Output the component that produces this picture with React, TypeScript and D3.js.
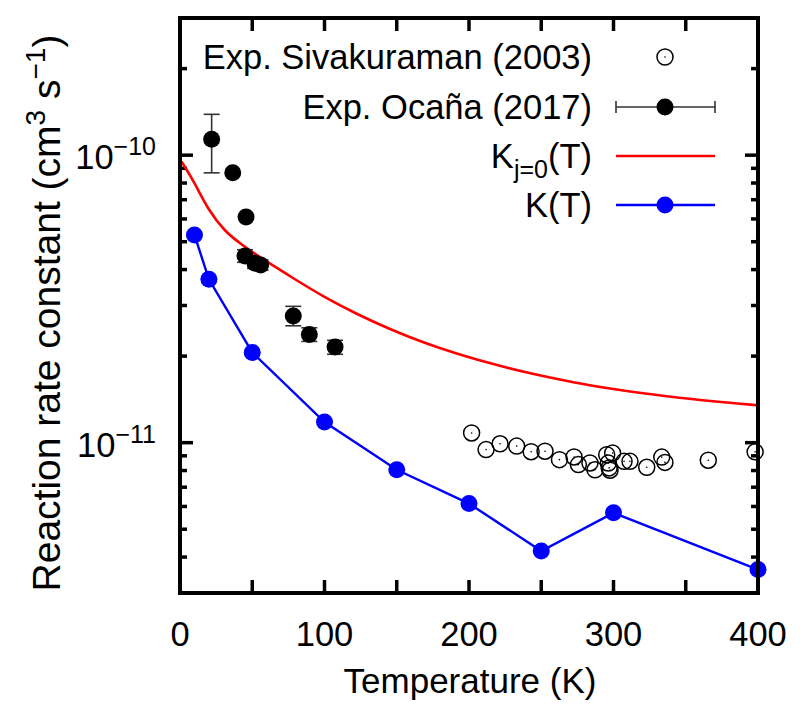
import React from 'react';
import * as d3 from 'd3';

// ---------- data ----------
const sivaT = [201.8, 211.8, 221.5, 233, 243, 252.6, 262.6, 272.7, 275.7, 283.7, 287.2, 295.3, 299.4, 296.4, 297, 297.6, 307.3, 311.4, 323, 333.4, 335.6, 365.6, 398];
const sivaK = [1.081e-11, 9.46e-12, 9.91e-12, 9.73e-12, 9.3e-12, 9.34e-12, 8.73e-12, 8.92e-12, 8.39e-12, 8.5e-12, 8.05e-12, 9.08e-12, 9.2e-12, 8.49e-12, 8.17e-12, 8.02e-12, 8.61e-12, 8.61e-12, 8.21e-12, 8.91e-12, 8.54e-12, 8.69e-12, 9.29e-12];

const ocanaT = [21.9, 36.5, 45.7, 45, 51.9, 55.8, 78.4, 89.5, 107.3];
const ocanaK = [1.135e-10, 8.68e-11, 6.1e-11, 4.46e-11, 4.21e-11, 4.15e-11, 2.76e-11, 2.38e-11, 2.15e-11];
const ocanaLo = [8.68e-11, 8.68e-11, 6.1e-11, 4.24e-11, 4.04e-11, 3.98e-11, 2.55e-11, 2.25e-11, 2.03e-11];
const ocanaHi = [1.387e-10, 8.68e-11, 6.1e-11, 4.69e-11, 4.38e-11, 4.32e-11, 2.98e-11, 2.51e-11, 2.27e-11];

const kj0T = [1, 2.3, 10.4, 19.6, 31.1, 42.7, 58.8, 77.3, 99.2, 122.3, 145.3, 168.4, 191.5, 214.5, 239.9, 272.2, 304.5, 336.8, 369.1, 400];
const kj0K = [9.5e-11, 9.3e-11, 7.97e-11, 6.44e-11, 5.42e-11, 4.88e-11, 4.3e-11, 3.76e-11, 3.22e-11, 2.8e-11, 2.48e-11, 2.23e-11, 2.04e-11, 1.89e-11, 1.75e-11, 1.62e-11, 1.52e-11, 1.45e-11, 1.39e-11, 1.35e-11];

const kT = [10, 20, 50, 100, 150, 200, 250, 300, 400];
const kK = [5.28e-11, 3.7e-11, 2.06e-11, 1.18e-11, 8.05e-12, 6.14e-12, 4.2e-12, 5.7e-12, 3.62e-12];

const xTickValues = [0, 50, 100, 150, 200, 250, 300, 350, 400];
const xTickLabels = [0, 100, 200, 300, 400];
const yMajorExps = [-11, -10];
const yMinorMantissas = [2, 3, 4, 5, 6, 7, 8, 9];
const yDecades = [-12, -11, -10];

const legendLabels = ['Exp. Sivakuraman (2003)', 'Exp. Ocaña (2017)', 'Kj=0(T)', 'K(T)'];

// ---------- layout ----------
const W = 800, H = 716;
const X0 = 180, X1 = 758, Y0 = 18, Y1 = 593;
const FONT = 'Liberation Sans, Arial, Helvetica, sans-serif';
const FS = 34.5;

export default function App() {
  const x = d3.scaleLinear().domain([0, 400]).range([X0, X1]);
  const y = d3.scaleLog().domain([3e-12, 3e-10]).range([Y1, Y0]);

  const redLine = d3.line<number>().x((_, i) => x(kj0T[i])).y((d) => y(d)).curve(d3.curveBasis)(kj0K) || '';
  const blueLine = d3.line<number>().x((_, i) => x(kT[i])).y((d) => y(d))(kK) || '';

  const minor: number[] = [];
  yDecades.forEach((e) => yMinorMantissas.forEach((m) => {
    const v = m * Math.pow(10, e);
    if (v > 3.01e-12 && v < 2.99e-10) minor.push(v);
  }));

  const majorLen = 13, minorLen = 7, tickW = 3.5;
  const legX1 = 616, legX2 = 715, legMid = 665;
  const legY = [57, 107, 156, 205];
  const legTextX = 592;
  const tx = { fontFamily: FONT, fill: '#000' };

  return (
    <svg width={W} height={H} style={{ position: 'absolute', left: 0, top: 0, background: '#fff' }}>
      <rect x={0} y={0} width={W} height={H} fill="#fff" />
      {/* ticks */}
      {xTickValues.map((t) => (
        <g key={'xt' + t}>
          <line x1={x(t)} x2={x(t)} y1={Y1} y2={Y1 - majorLen} stroke="#000" strokeWidth={tickW} />
          <line x1={x(t)} x2={x(t)} y1={Y0} y2={Y0 + majorLen} stroke="#000" strokeWidth={tickW} />
        </g>
      ))}
      {yMajorExps.map((e) => {
        const yy = y(Math.pow(10, e));
        return (
          <g key={'ym' + e}>
            <line x1={X0} x2={X0 + majorLen} y1={yy} y2={yy} stroke="#000" strokeWidth={tickW} />
            <line x1={X1} x2={X1 - majorLen} y1={yy} y2={yy} stroke="#000" strokeWidth={tickW} />
          </g>
        );
      })}
      {minor.map((v, i) => {
        const yy = y(v);
        return (
          <g key={'yn' + i}>
            <line x1={X0} x2={X0 + minorLen} y1={yy} y2={yy} stroke="#000" strokeWidth={tickW} />
            <line x1={X1} x2={X1 - minorLen} y1={yy} y2={yy} stroke="#000" strokeWidth={tickW} />
          </g>
        );
      })}

      {/* red curve */}
      <path d={redLine} fill="none" stroke="#ff0000" strokeWidth={2.6} />

      {/* blue K(T) */}
      <path d={blueLine} fill="none" stroke="#0000ff" strokeWidth={2.4} />
      {kT.map((t, i) => (
        <circle key={'b' + i} cx={x(t)} cy={y(kK[i])} r={8.5} fill="#0000ff" />
      ))}

      {/* Ocaña */}
      {ocanaT.map((t, i) => {
        if (ocanaHi[i] === ocanaLo[i]) return null;
        const cx = x(t);
        return (
          <g key={'e' + i} stroke="#333" strokeWidth={1.6}>
            <line x1={cx} x2={cx} y1={y(ocanaLo[i])} y2={y(ocanaHi[i])} />
            <line x1={cx - 8} x2={cx + 8} y1={y(ocanaLo[i])} y2={y(ocanaLo[i])} />
            <line x1={cx - 8} x2={cx + 8} y1={y(ocanaHi[i])} y2={y(ocanaHi[i])} />
          </g>
        );
      })}
      {ocanaT.map((t, i) => (
        <circle key={'o' + i} cx={x(t)} cy={y(ocanaK[i])} r={8.5} fill="#000" />
      ))}

      {/* Sivakuraman */}
      {sivaT.map((t, i) => (
        <g key={'s' + i}>
          <circle cx={x(t)} cy={y(sivaK[i])} r={8} fill="none" stroke="#000" strokeWidth={1.5} />
          <circle cx={x(t)} cy={y(sivaK[i])} r={0.8} fill="#000" />
        </g>
      ))}

      {/* frame */}
      <rect x={X0} y={Y0} width={X1 - X0} height={Y1 - Y0} fill="none" stroke="#000" strokeWidth={4} />

      {/* x tick labels */}
      {xTickLabels.map((t) => (
        <text key={'xl' + t} x={x(t)} y={646} textAnchor="middle" fontSize={FS} {...tx}>{t}</text>
      ))}
      {/* y tick labels */}
      {yMajorExps.map((e) => (
        <text key={'yl' + e} x={156} y={y(Math.pow(10, e)) + 14} textAnchor="end" fontSize={FS} {...tx}>
          10<tspan dy={-14} fontSize={25}>{'\u2212' + Math.abs(e)}</tspan>
        </text>
      ))}

      {/* axis titles */}
      <text x={(X0 + X1) / 2 + 1} y={693} textAnchor="middle" fontSize={35} {...tx}>Temperature (K)</text>
      <g transform="translate(60,313) rotate(-90)">
        <text textAnchor="middle" fontSize={39} {...tx}>
          Reaction rate constant (cm<tspan dy={-15} fontSize={28}>3</tspan>
          <tspan dy={15}> s</tspan><tspan dy={-15} fontSize={28}>{'\u22121'}</tspan><tspan dy={15}>)</tspan>
        </text>
      </g>

      {/* legend */}
      <text x={legTextX} y={legY[0] + 12} textAnchor="end" fontSize={FS} {...tx}>{legendLabels[0]}</text>
      <circle cx={legMid} cy={legY[0]} r={8} fill="none" stroke="#000" strokeWidth={1.5} />
      <circle cx={legMid} cy={legY[0]} r={0.8} fill="#000" />

      <text x={legTextX} y={legY[1] + 12} textAnchor="end" fontSize={FS} {...tx}>{legendLabels[1]}</text>
      <g stroke="#333" strokeWidth={1.6}>
        <line x1={legX1} x2={legX2} y1={legY[1]} y2={legY[1]} />
        <line x1={legX1} x2={legX1} y1={legY[1] - 6} y2={legY[1] + 6} />
        <line x1={legX2} x2={legX2} y1={legY[1] - 6} y2={legY[1] + 6} />
      </g>
      <circle cx={legMid} cy={legY[1]} r={8.5} fill="#000" />

      <text x={legTextX} y={legY[2] + 12} textAnchor="end" fontSize={FS} {...tx}>
        K<tspan dy={10} fontSize={25}>j=0</tspan><tspan dy={-10}>(T)</tspan>
      </text>
      <line x1={legX1} x2={legX2} y1={legY[2]} y2={legY[2]} stroke="#ff0000" strokeWidth={2.6} />

      <text x={legTextX} y={legY[3] + 12} textAnchor="end" fontSize={FS} {...tx}>{legendLabels[3]}</text>
      <line x1={legX1} x2={legX2} y1={legY[3]} y2={legY[3]} stroke="#0000ff" strokeWidth={2.4} />
      <circle cx={legMid} cy={legY[3]} r={8.5} fill="#0000ff" />
    </svg>
  );
}
